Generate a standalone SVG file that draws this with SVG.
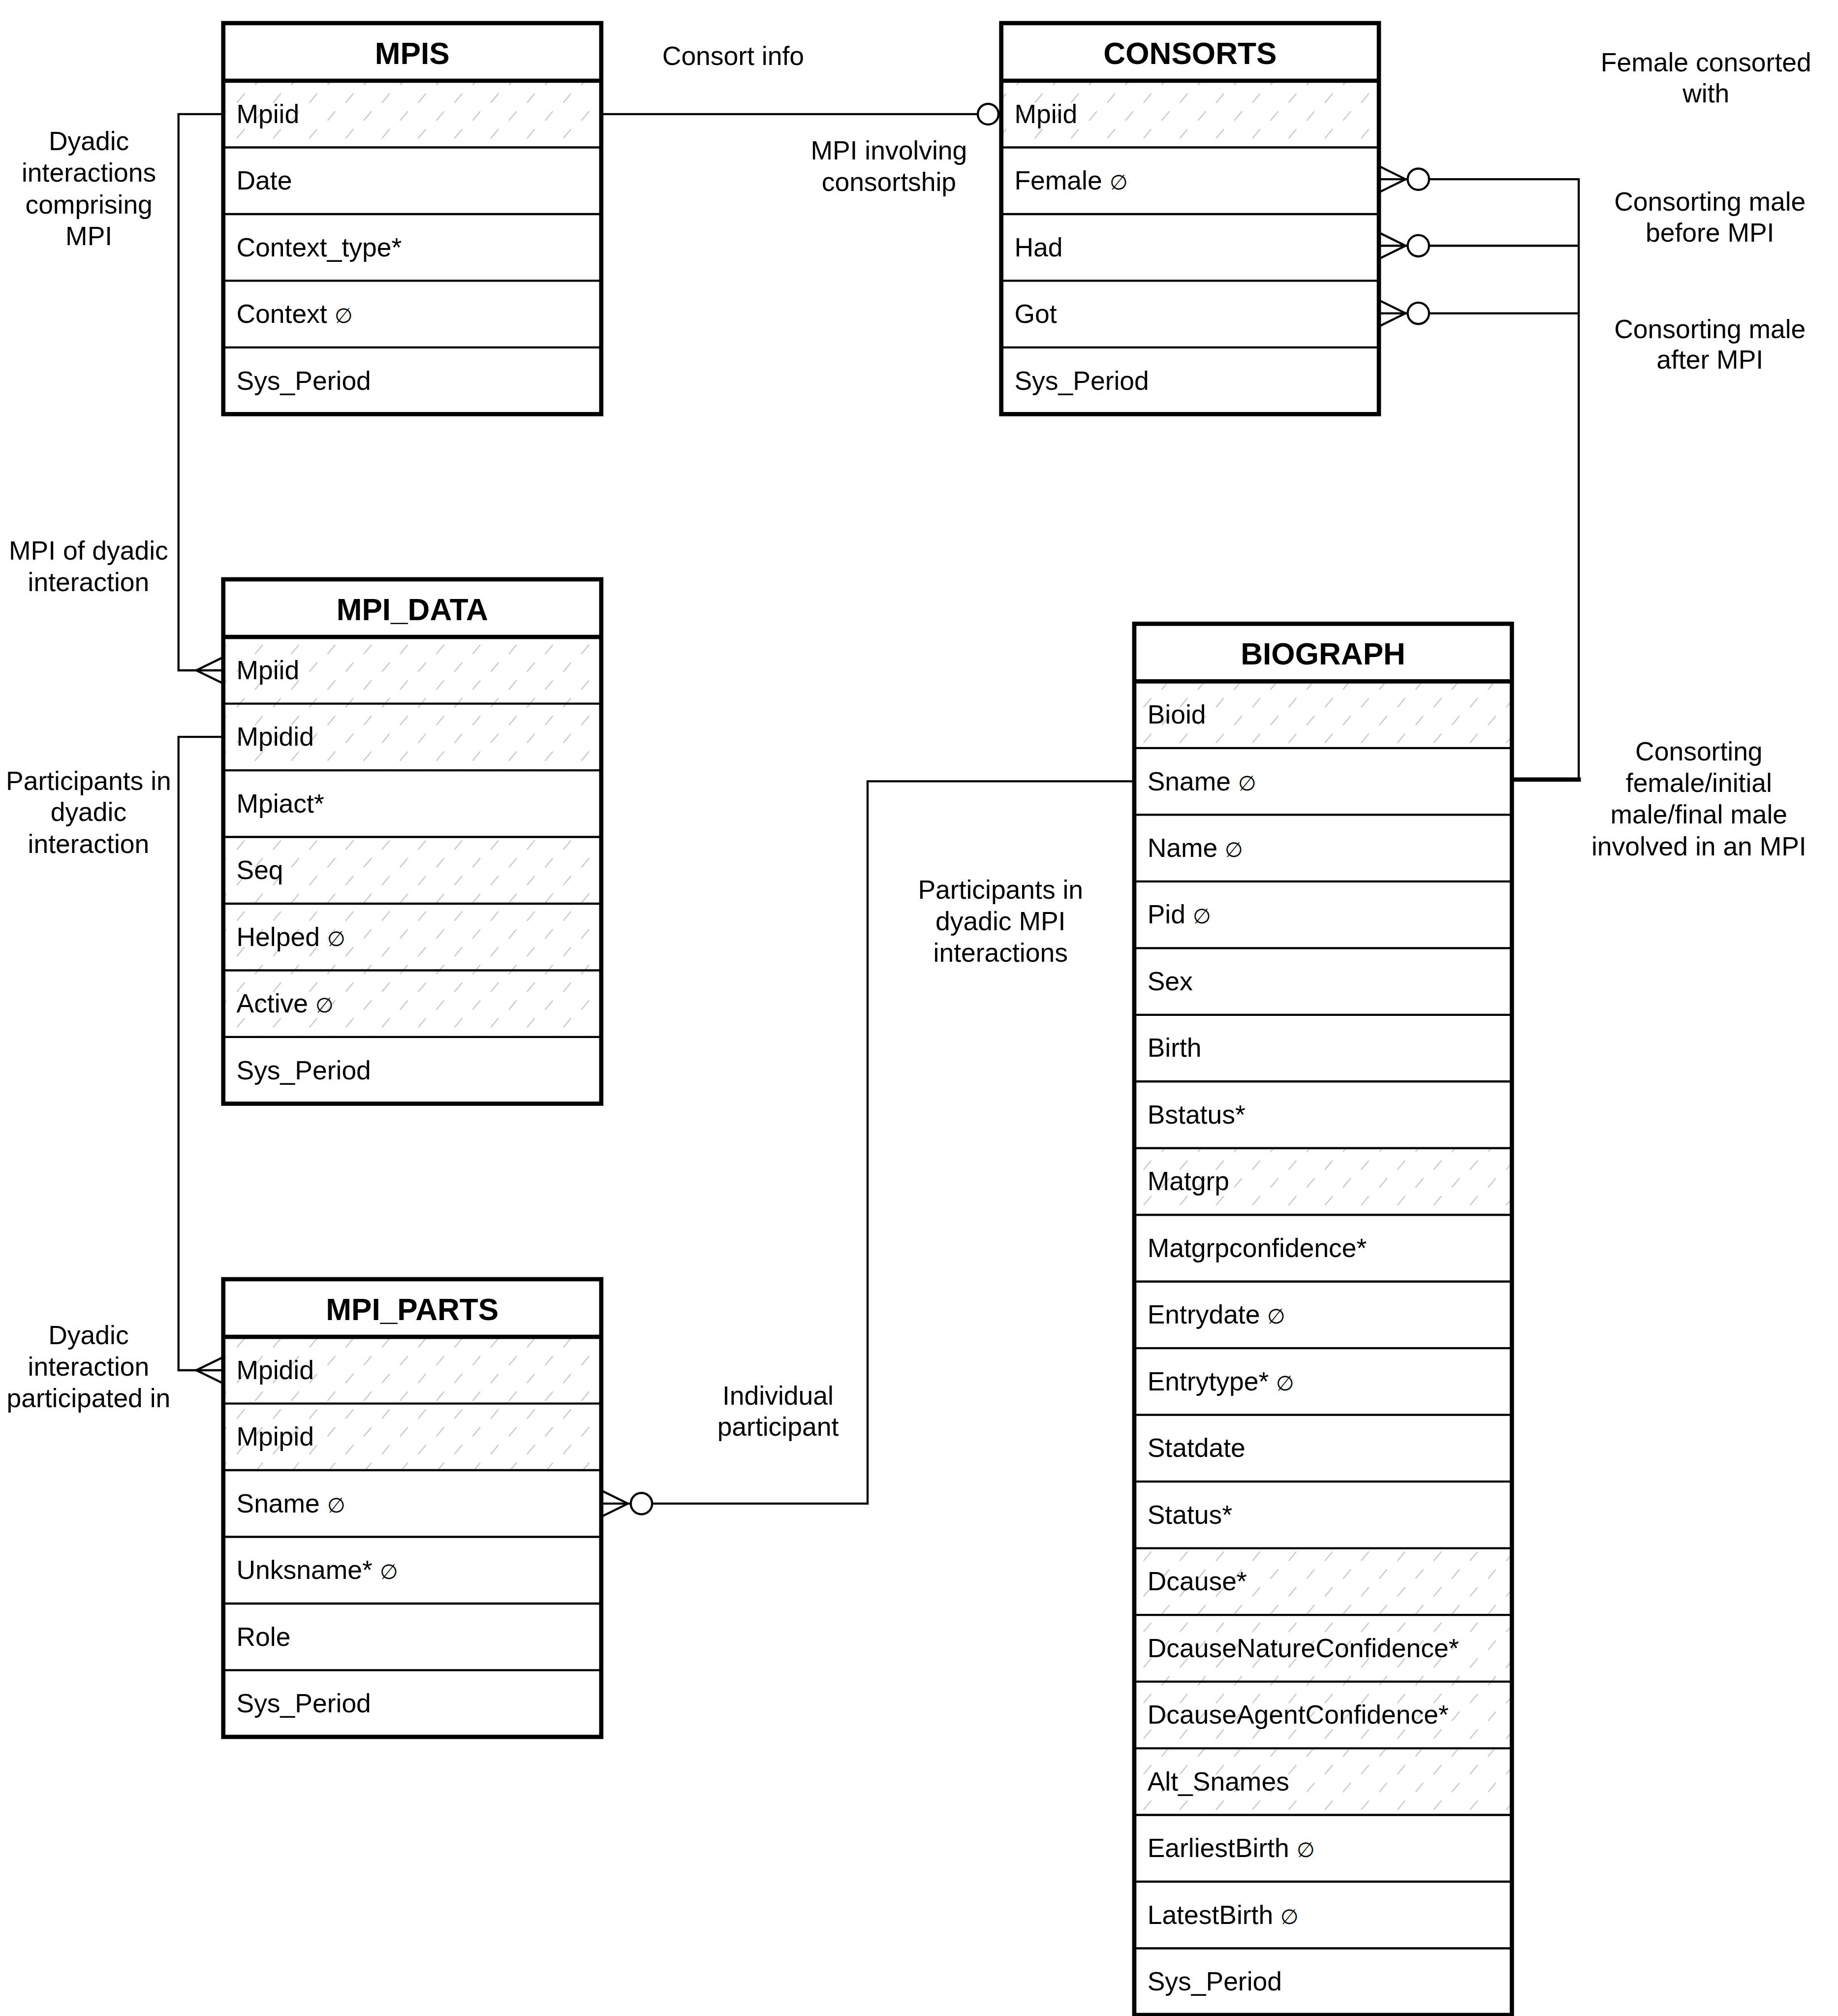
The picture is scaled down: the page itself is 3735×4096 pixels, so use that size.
<svg xmlns="http://www.w3.org/2000/svg" width="3735" height="4096" viewBox="0 0 3735 4096">
<defs>
<pattern id="hatch" patternUnits="userSpaceOnUse" width="102" height="100">
<path d="M4,38 L24,14 M55,88 L75,64" stroke="#c8c8c8" stroke-width="3.5" stroke-linecap="round" fill="none"/>
</pattern>
<style>
.bg{fill:#fff}
.ht{fill:url(#hatch)}
.bd{fill:none;stroke:#000;stroke-width:12}
.hs{stroke:#000;stroke-width:12}
.rs{stroke:#000;stroke-width:6}
.h{font-family:"Liberation Sans",Arial,Helvetica,sans-serif;font-weight:bold;font-size:86px;text-anchor:middle;fill:#000}
.r{font-family:"Liberation Sans",Arial,Helvetica,sans-serif;font-size:74px;fill:#000}
.l{font-family:"Liberation Sans",Arial,Helvetica,sans-serif;font-size:74px;text-anchor:middle;fill:#000}
.n{font-size:58px}
.c{fill:none;stroke:#000;stroke-width:6}
.ct{fill:none;stroke:#000;stroke-width:12}
.o{fill:#fff;stroke:#000;stroke-width:6}
</style>
</defs>
<rect width="3735" height="4096" fill="#fff"/>
<g transform="scale(0.72255)">

<g id="connectors">
<path class="c" d="M1691,321 H2750"/>
<path class="c" d="M628,321 H502 V1885 H628"/>
<path class="c" d="M628,1848 L552,1885 L628,1922"/>
<path class="c" d="M628,2072 H502 V3853 H628"/>
<path class="c" d="M628,3816 L552,3853 L628,3890"/>
<path class="c" d="M3878,504 H4440 M3878,691 H4440 M3878,881 H4440 M4440,501 V2192"/>
<path class="ct" d="M4446,2192 H4252"/>
<path class="c" d="M3878,467 L3953,504 L3878,541 M3878,654 L3953,691 L3878,728 M3878,844 L3953,881 L3878,918"/>
<path class="c" d="M3190,2197 H2440 V4228 H1691"/>
<path class="c" d="M1691,4191 L1766,4228 L1691,4265"/>
<circle class="o" cx="2779" cy="321" r="29"/>
<circle class="o" cx="3989" cy="504" r="30"/>
<circle class="o" cx="3989" cy="691" r="30"/>
<circle class="o" cx="3989" cy="881" r="30"/>
<circle class="o" cx="1804" cy="4228" r="30"/>
</g>

<g id="mpis">
<rect class="bg" x="628" y="65" width="1063" height="1099.5"/>
<rect class="ht" x="628" y="227" width="1063" height="187.5"/>
<path class="hs" d="M628,227 H1691"/>
<path class="rs" d="M628,414.5 H1691 M628,602 H1691 M628,789.5 H1691 M628,977 H1691"/>
<rect class="bd" x="628" y="65" width="1063" height="1099.5"/>
<text class="h" x="1159.5" y="180">MPIS</text>
<text class="r" x="665" y="346">Mpiid</text>
<text class="r" x="665" y="533">Date</text>
<text class="r" x="665" y="721">Context_type*</text>
<text class="r" x="665" y="908">Context <tspan class="n">∅</tspan></text>
<text class="r" x="665" y="1096">Sys_Period</text>
</g>

<g id="consorts">
<rect class="bg" x="2816" y="65" width="1062" height="1099.5"/>
<rect class="ht" x="2816" y="227" width="1062" height="187.5"/>
<path class="hs" d="M2816,227 H3878"/>
<path class="rs" d="M2816,414.5 H3878 M2816,602 H3878 M2816,789.5 H3878 M2816,977 H3878"/>
<rect class="bd" x="2816" y="65" width="1062" height="1099.5"/>
<text class="h" x="3347" y="180">CONSORTS</text>
<text class="r" x="2853" y="346">Mpiid</text>
<text class="r" x="2853" y="533">Female <tspan class="n">∅</tspan></text>
<text class="r" x="2853" y="721">Had</text>
<text class="r" x="2853" y="908">Got</text>
<text class="r" x="2853" y="1096">Sys_Period</text>
</g>

<g id="mpi_data">
<rect class="bg" x="628" y="1629" width="1063" height="1474.5"/>
<rect class="ht" x="628" y="1791" width="1063" height="375"/>
<rect class="ht" x="628" y="2353.5" width="1063" height="562.5"/>
<path class="hs" d="M628,1791 H1691"/>
<path class="rs" d="M628,1978.5 H1691 M628,2166 H1691 M628,2353.5 H1691 M628,2541 H1691 M628,2728.5 H1691 M628,2916 H1691"/>
<rect class="bd" x="628" y="1629" width="1063" height="1474.5"/>
<text class="h" x="1159.5" y="1744">MPI_DATA</text>
<text class="r" x="665" y="1910">Mpiid</text>
<text class="r" x="665" y="2097">Mpidid</text>
<text class="r" x="665" y="2285">Mpiact*</text>
<text class="r" x="665" y="2472">Seq</text>
<text class="r" x="665" y="2660">Helped <tspan class="n">∅</tspan></text>
<text class="r" x="665" y="2847">Active <tspan class="n">∅</tspan></text>
<text class="r" x="665" y="3035">Sys_Period</text>
</g>

<g id="mpi_parts">
<rect class="bg" x="628" y="3597" width="1063" height="1287"/>
<rect class="ht" x="628" y="3759" width="1063" height="375"/>
<path class="hs" d="M628,3759 H1691"/>
<path class="rs" d="M628,3946.5 H1691 M628,4134 H1691 M628,4321.5 H1691 M628,4509 H1691 M628,4696.5 H1691"/>
<rect class="bd" x="628" y="3597" width="1063" height="1287"/>
<text class="h" x="1159.5" y="3712">MPI_PARTS</text>
<text class="r" x="665" y="3878">Mpidid</text>
<text class="r" x="665" y="4065">Mpipid</text>
<text class="r" x="665" y="4253">Sname <tspan class="n">∅</tspan></text>
<text class="r" x="665" y="4440">Unksname* <tspan class="n">∅</tspan></text>
<text class="r" x="665" y="4628">Role</text>
<text class="r" x="665" y="4815">Sys_Period</text>
</g>

<g id="biograph">
<rect class="bg" x="3190" y="1754" width="1062" height="3912"/>
<rect class="ht" x="3190" y="1916" width="1062" height="187.5"/>
<rect class="ht" x="3190" y="3228.5" width="1062" height="187.5"/>
<rect class="ht" x="3190" y="4353.5" width="1062" height="750"/>
<path class="hs" d="M3190,1916 H4252"/>
<path class="rs" d="M3190,2103.5 H4252 M3190,2291 H4252 M3190,2478.5 H4252 M3190,2666 H4252 M3190,2853.5 H4252 M3190,3041 H4252 M3190,3228.5 H4252 M3190,3416 H4252 M3190,3603.5 H4252 M3190,3791 H4252 M3190,3978.5 H4252 M3190,4166 H4252 M3190,4353.5 H4252 M3190,4541 H4252 M3190,4728.5 H4252 M3190,4916 H4252 M3190,5103.5 H4252 M3190,5291 H4252 M3190,5478.5 H4252"/>
<rect class="bd" x="3190" y="1754" width="1062" height="3912"/>
<text class="h" x="3721" y="1869">BIOGRAPH</text>
<text class="r" x="3227" y="2035">Bioid</text>
<text class="r" x="3227" y="2222">Sname <tspan class="n">∅</tspan></text>
<text class="r" x="3227" y="2410">Name <tspan class="n">∅</tspan></text>
<text class="r" x="3227" y="2597">Pid <tspan class="n">∅</tspan></text>
<text class="r" x="3227" y="2785">Sex</text>
<text class="r" x="3227" y="2972">Birth</text>
<text class="r" x="3227" y="3160">Bstatus*</text>
<text class="r" x="3227" y="3347">Matgrp</text>
<text class="r" x="3227" y="3535">Matgrpconfidence*</text>
<text class="r" x="3227" y="3722">Entrydate <tspan class="n">∅</tspan></text>
<text class="r" x="3227" y="3910">Entrytype* <tspan class="n">∅</tspan></text>
<text class="r" x="3227" y="4097">Statdate</text>
<text class="r" x="3227" y="4285">Status*</text>
<text class="r" x="3227" y="4472">Dcause*</text>
<text class="r" x="3227" y="4660">DcauseNatureConfidence*</text>
<text class="r" x="3227" y="4847">DcauseAgentConfidence*</text>
<text class="r" x="3227" y="5035">Alt_Snames</text>
<text class="r" x="3227" y="5222">EarliestBirth <tspan class="n">∅</tspan></text>
<text class="r" x="3227" y="5410">LatestBirth <tspan class="n">∅</tspan></text>
<text class="r" x="3227" y="5597">Sys_Period</text>
</g>

<g id="labels">
<text class="l" x="2062" y="183">Consort info</text>
<text class="l" x="2500" y="449">MPI involving</text>
<text class="l" x="2500" y="537">consortship</text>
<text class="l" x="4798" y="200">Female consorted</text>
<text class="l" x="4798" y="288">with</text>
<text class="l" x="4809" y="592">Consorting male</text>
<text class="l" x="4809" y="679">before MPI</text>
<text class="l" x="4809" y="951">Consorting male</text>
<text class="l" x="4809" y="1037">after MPI</text>
<text class="l" x="250" y="422">Dyadic</text>
<text class="l" x="250" y="511">interactions</text>
<text class="l" x="250" y="600">comprising</text>
<text class="l" x="250" y="689">MPI</text>
<text class="l" x="249" y="1574">MPI of dyadic</text>
<text class="l" x="249" y="1662">interaction</text>
<text class="l" x="249" y="2221">Participants in</text>
<text class="l" x="249" y="2309">dyadic</text>
<text class="l" x="249" y="2398">interaction</text>
<text class="l" x="249" y="3779">Dyadic</text>
<text class="l" x="249" y="3868">interaction</text>
<text class="l" x="249" y="3957">participated in</text>
<text class="l" x="2188" y="3950">Individual</text>
<text class="l" x="2188" y="4037">participant</text>
<text class="l" x="2814" y="2527">Participants in</text>
<text class="l" x="2814" y="2616">dyadic MPI</text>
<text class="l" x="2814" y="2705">interactions</text>
<text class="l" x="4778" y="2138">Consorting</text>
<text class="l" x="4778" y="2227">female/initial</text>
<text class="l" x="4778" y="2316">male/final male</text>
<text class="l" x="4778" y="2405">involved in an MPI</text>
</g>

</g>
</svg>
